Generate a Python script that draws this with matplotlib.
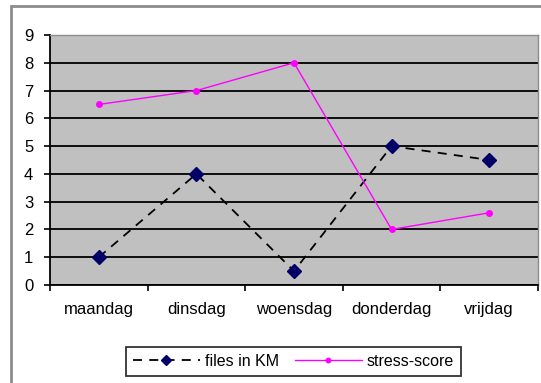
import matplotlib.pyplot as plt
from matplotlib.patches import Rectangle

days = ['maandag', 'dinsdag', 'woensdag', 'donderdag', 'vrijdag']
files_km = [1, 4, 0.5, 5, 4.5]
stress_score = [6.5, 7, 8, 2, 2.6]

plt.rcParams['font.family'] = ['Liberation Sans', 'DejaVu Sans']

fig = plt.figure(figsize=(5.41, 3.83), dpi=100)
ax = fig.add_axes([0.0924, 0.2559, 0.9021, 0.6527])

# chart frame around everything
fig.patches.append(Rectangle((11 / 541, -0.05), 1.05, 1 - 6 / 383 + 0.05,
                             transform=fig.transFigure, fill=False,
                             edgecolor='#8c8c8c', linewidth=2))

ax.set_facecolor('#c0c0c0')
x = range(len(days))
ax.plot(x, files_km, color='black', linestyle=(0, (5, 4)), linewidth=1.3,
        marker='D', markersize=7, markerfacecolor='#000066',
        markeredgecolor='#000066', label='files in KM', zorder=3)
ax.plot(x, stress_score, color='#ff00ff', linewidth=1, marker='o',
        markersize=4, label='stress-score', zorder=3)

ax.set_xlim(-0.5, len(days) - 0.5)
ax.set_ylim(0, 9)
ax.set_yticks(range(10))
ax.yaxis.grid(True, color='black', linewidth=1.3)
ax.set_axisbelow(True)

ax.set_xticks([i - 0.5 for i in range(len(days) + 1)], minor=False)
ax.set_xticklabels([])
ax.set_xticks(list(x), minor=True)
ax.set_xticklabels(days, minor=True)
ax.tick_params(axis='x', which='minor', length=0, pad=12, labelsize=12)
ax.tick_params(axis='x', which='major', direction='out', length=4, width=1.2)
ax.tick_params(axis='y', direction='out', length=4, width=1.2, pad=8, labelsize=12)

for side in ['left', 'bottom']:
    ax.spines[side].set_color('black')
    ax.spines[side].set_linewidth(1.3)
for side in ['top', 'right']:
    ax.spines[side].set_color('#8c8c8c')
    ax.spines[side].set_linewidth(1)

leg = fig.legend(loc='center', bbox_to_anchor=(0.5425, 0.056), ncol=2,
                 frameon=True, fancybox=False, fontsize=11.5, handlelength=4.2,
                 handletextpad=0.3, columnspacing=1.0, borderpad=0.45,
                 markerscale=0.8)
leg.get_frame().set_edgecolor('black')
leg.get_frame().set_linewidth(1.3)

fig.savefig('out.png', dpi=100)
